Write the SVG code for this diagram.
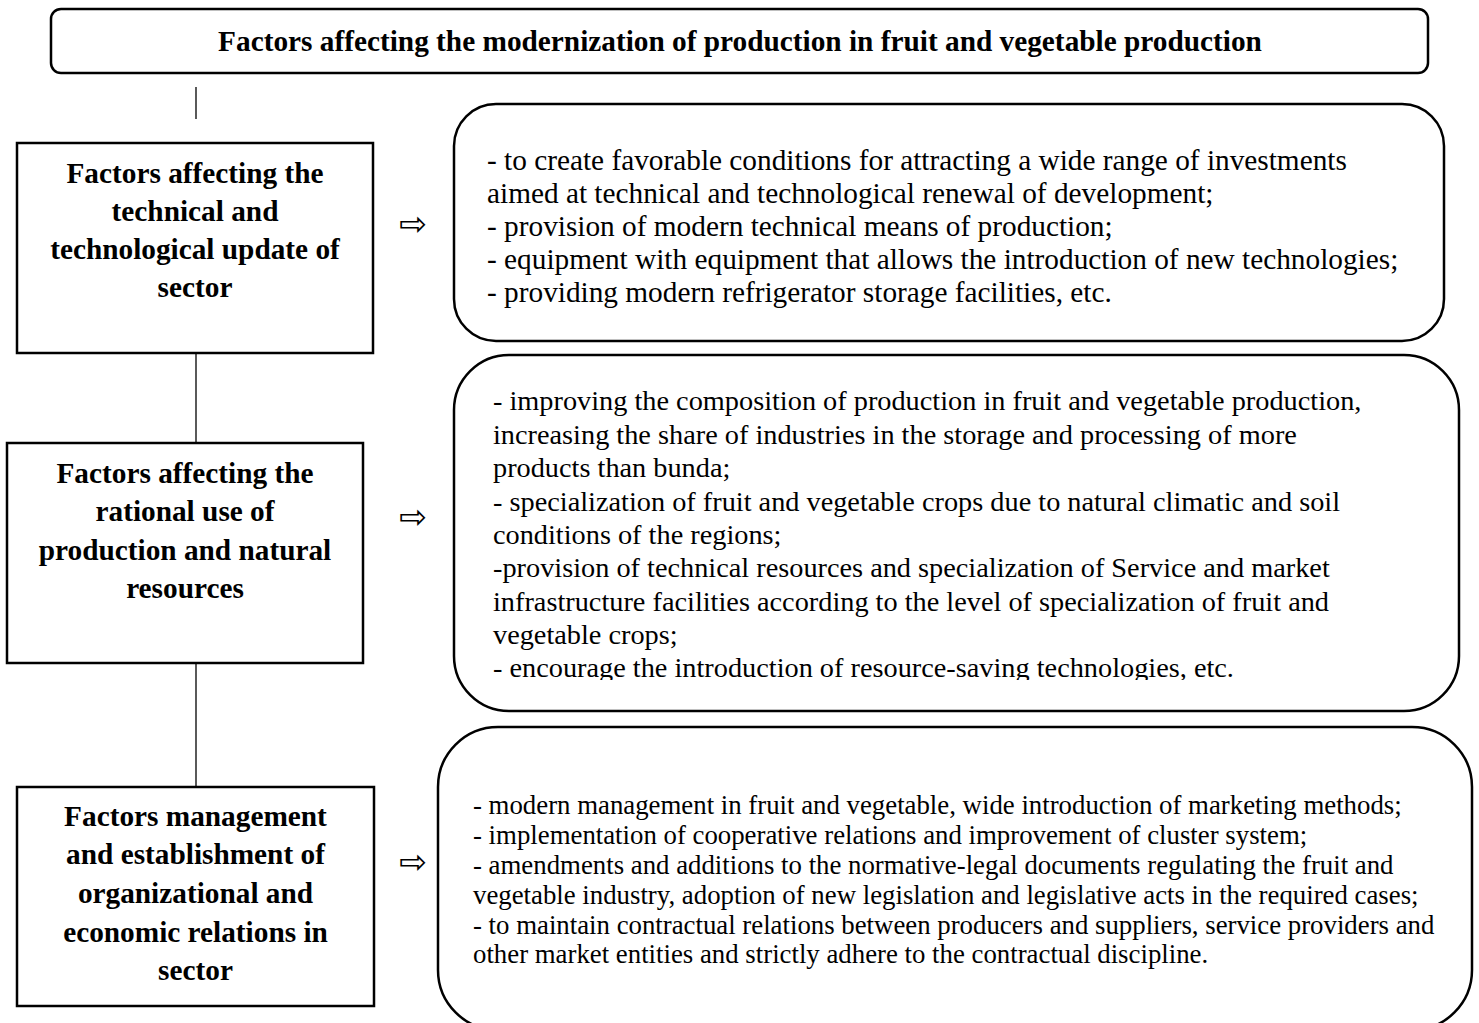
<svg xmlns="http://www.w3.org/2000/svg" width="1479" height="1023" viewBox="0 0 1479 1023">
<style>
.box{fill:#fff;stroke:#000;stroke-width:2.5}
.line{stroke:#000;stroke-width:1.3;fill:none}
.bold{font-family:"Liberation Serif","Times New Roman",serif;font-weight:bold;font-size:29.3px;fill:#000}
.body{font-family:"Liberation Serif","Times New Roman",serif;font-size:29.3px;fill:#000}
.body2{font-family:"Liberation Serif","Times New Roman",serif;font-size:28.3px;fill:#000}
.body3{font-family:"Liberation Serif","Times New Roman",serif;font-size:26.8px;fill:#000}
.arrow{font-family:"DejaVu Sans",sans-serif;font-size:33px;fill:#000}
</style>
<defs>
<clipPath id="clipR2"><rect x="454" y="355" width="1005" height="325"/></clipPath>
</defs>
<g id="connectors">
<line class="line" x1="196" y1="87" x2="196" y2="119"/>
<line class="line" x1="196" y1="353" x2="196" y2="443"/>
<line class="line" x1="196" y1="663" x2="196" y2="800"/>
</g>
<g id="title">
<rect class="box" x="51" y="9" width="1377" height="64" rx="10"/>
<text class="bold" x="740" y="51" text-anchor="middle">Factors affecting the modernization of production in fruit and vegetable production</text>
</g>
<g id="left1">
<rect class="box" x="17" y="143" width="356" height="210"/>
<text class="bold" text-anchor="middle"><tspan x="195" y="183">Factors affecting the</tspan><tspan x="195" y="221">technical and</tspan><tspan x="195" y="259">technological update of</tspan><tspan x="195" y="297">sector</tspan></text>
</g>
<g id="left2">
<rect class="box" x="7" y="443" width="356" height="220"/>
<text class="bold" text-anchor="middle"><tspan x="185" y="483">Factors affecting the</tspan><tspan x="185" y="521">rational use of</tspan><tspan x="185" y="560">production and natural</tspan><tspan x="185" y="598">resources</tspan></text>
</g>
<g id="left3">
<rect class="box" x="17" y="787" width="357" height="219"/>
<text class="bold" text-anchor="middle"><tspan x="195.5" y="826">Factors management</tspan><tspan x="195.5" y="864">and establishment of</tspan><tspan x="195.5" y="903">organizational and</tspan><tspan x="195.5" y="942">economic relations in</tspan><tspan x="195.5" y="980">sector</tspan></text>
</g>
<g id="arrows">
<text class="arrow" x="413" y="235" text-anchor="middle">⇨</text>
<text class="arrow" x="413" y="528" text-anchor="middle">⇨</text>
<text class="arrow" x="413" y="873" text-anchor="middle">⇨</text>
</g>
<g id="right1">
<rect class="box" x="454" y="104" width="990" height="237" rx="42"/>
<text class="body"><tspan x="487" y="170">- to create favorable conditions for attracting a wide range of investments</tspan><tspan x="487" y="203">aimed at technical and technological renewal of development;</tspan><tspan x="487" y="236">- provision of modern technical means of production;</tspan><tspan x="487" y="269">- equipment with equipment that allows the introduction of new technologies;</tspan><tspan x="487" y="302">- providing modern refrigerator storage facilities, etc.</tspan></text>
</g>
<g id="right2">
<rect class="box" x="454" y="355" width="1005" height="356" rx="55"/>
<text class="body2" clip-path="url(#clipR2)"><tspan x="493" y="410">- improving the composition of production in fruit and vegetable production,</tspan><tspan x="493" y="444">increasing the share of industries in the storage and processing of more</tspan><tspan x="493" y="477">products than bunda;</tspan><tspan x="493" y="511">- specialization of fruit and vegetable crops due to natural climatic and soil</tspan><tspan x="493" y="544">conditions of the regions;</tspan><tspan x="493" y="577">-provision of technical resources and specialization of Service and market</tspan><tspan x="493" y="611">infrastructure facilities according to the level of specialization of fruit and</tspan><tspan x="493" y="644">vegetable crops;</tspan><tspan x="493" y="677">- encourage the introduction of resource-saving technologies, etc.</tspan></text>
</g>
<g id="right3">
<rect class="box" x="438" y="727" width="1034" height="303" rx="60"/>
<text class="body3"><tspan x="473" y="814">- modern management in fruit and vegetable, wide introduction of marketing methods;</tspan><tspan x="473" y="844">- implementation of cooperative relations and improvement of cluster system;</tspan><tspan x="473" y="874">- amendments and additions to the normative-legal documents regulating the fruit and</tspan><tspan x="473" y="904">vegetable industry, adoption of new legislation and legislative acts in the required cases;</tspan><tspan x="473" y="934">- to maintain contractual relations between producers and suppliers, service providers and</tspan><tspan x="473" y="963">other market entities and strictly adhere to the contractual discipline.</tspan></text>
</g>
</svg>
